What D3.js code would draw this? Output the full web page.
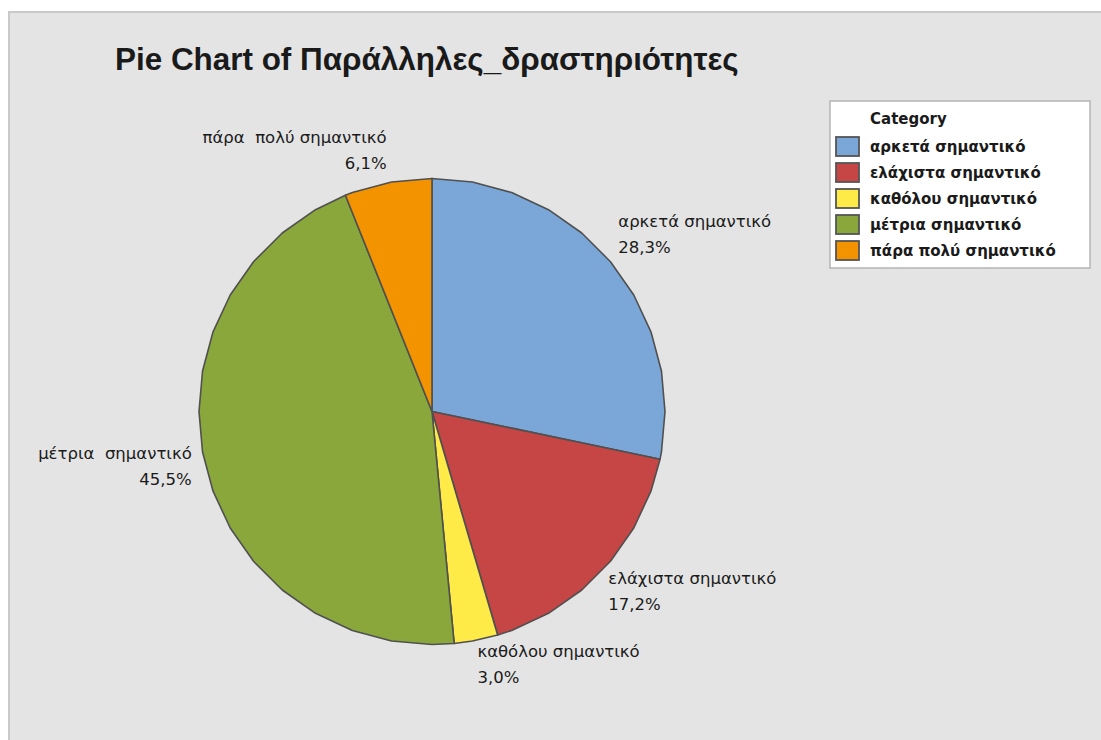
<!DOCTYPE html>
<html>
<head>
<meta charset="utf-8">
<script src="https://cdn.jsdelivr.net/npm/d3@7/dist/d3.min.js"></script>
<style>
  html, body { margin: 0; padding: 0; background: #ffffff; }
  svg { display: block; }
  text { white-space: pre; }
</style>
</head>
<body>
<svg id="chart" width="1101" height="740"></svg>
<script>
// Responses per category (counts), in drawing order clockwise from 12 o'clock
const categories = ["αρκετά σημαντικό", "ελάχιστα σημαντικό", "καθόλου σημαντικό", "μέτρια σημαντικό", "πάρα πολύ σημαντικό"];
const sliceLabels = ["αρκετά σημαντικό", "ελάχιστα σημαντικό", "καθόλου σημαντικό", "μέτρια  σημαντικό", "πάρα  πολύ σημαντικό"];
const counts = [28, 17, 3, 45, 6];
const colors = ["#7ba7d8", "#c64545", "#ffeb47", "#89a73b", "#f39300"];
const titleText = "Pie Chart of Παράλληλες_δραστηριότητες";
const legendTitle = "Category";

const W = 1101, H = 740;
const svg = d3.select("#chart");
const labelFont = "'DejaVu Sans', Verdana, sans-serif";

// background panel
svg.append("rect").attr("x", 0).attr("y", 0).attr("width", W).attr("height", H).attr("fill", "#ffffff");
svg.append("rect").attr("x", 9).attr("y", 12).attr("width", W).attr("height", H)
  .attr("fill", "#e4e4e4").attr("stroke", "#c9c9c9").attr("stroke-width", 2);

// title, sized to its measured span
const title = svg.append("text")
  .attr("x", 115).attr("y", 70)
  .attr("font-family", "'Liberation Sans', Arial, sans-serif")
  .attr("font-weight", "bold").attr("font-size", 28)
  .attr("fill", "#1a1a1a")
  .text(titleText);
{
  const len = title.node().getComputedTextLength();
  title.attr("font-size", 28 * 624 / len);
}

// pie geometry
const cx = 432, cy = 411.5, R = 233;
const total = d3.sum(counts);
const pct = d3.scaleLinear().domain([0, total]).range([0, 100]);
const pie = d3.pie().sort(null).value(d => d.count);
const arcs = pie(categories.map((c, i) => ({ cat: c, label: sliceLabels[i], count: counts[i], color: colors[i] })));

// slices are drawn as polygons with a vertex every 10 degrees
const step = Math.PI / 18;
const radial = d3.lineRadial().angle(p => p[0]).radius(p => p[1]).curve(d3.curveLinearClosed);
function polySlice(a) {
  const pts = [[a.startAngle, 0], [a.startAngle, R]];
  for (let k = Math.floor(a.startAngle / step + 1e-6) + 1; k * step < a.endAngle - 1e-6; k++) {
    pts.push([k * step, R]);
  }
  pts.push([a.endAngle, R]);
  return radial(pts);
}

const g = svg.append("g").attr("transform", `translate(${cx},${cy})`);
g.selectAll("path.slice").data(arcs).join("path")
  .attr("class", "slice")
  .attr("d", polySlice)
  .attr("fill", d => d.data.color)
  .attr("stroke", "#505050")
  .attr("stroke-width", 1.6)
  .attr("stroke-linejoin", "round");

// slice labels: name and percent outside the rim at the slice mid-angle
const fmt = v => d3.format(".1f")(v).replace(".", ",") + "%";
const labelR = 240, lineGap = 26;
arcs.forEach(a => {
  const mid = (a.startAngle + a.endAngle) / 2;
  const s = Math.sin(mid), c = Math.cos(mid);
  let px = cx + s * labelR;
  const py = cy - c * labelR;
  let firstBase;
  if (c > 0.5) firstBase = py - lineGap - 7;       // block sits above the point
  else if (c < -0.5) firstBase = py + 10;          // block hangs below the point
  else { firstBase = py - 9; px += s > 0 ? 7 : -7; } // block beside the point
  const anchor = s >= 0 ? "start" : "end";
  const t = svg.append("text")
    .attr("font-family", labelFont)
    .attr("font-size", 16.5).attr("fill", "#1a1a1a")
    .attr("text-anchor", anchor);
  t.append("tspan").attr("x", px).attr("y", firstBase).text(a.data.label);
  t.append("tspan").attr("x", px).attr("y", firstBase + lineGap).text(fmt(pct(a.data.count)));
});

// legend
const lg = svg.append("g");
lg.append("rect").attr("x", 830).attr("y", 101).attr("width", 260).attr("height", 167)
  .attr("fill", "#ffffff").attr("stroke", "#b4b4b4").attr("stroke-width", 1.5);
lg.append("text").attr("x", 870).attr("y", 124)
  .attr("font-family", labelFont)
  .attr("font-weight", "bold").attr("font-size", 15).attr("fill", "#1a1a1a")
  .text(legendTitle);
const rowY = d3.scaleBand().domain(categories).range([137, 137 + 26 * categories.length]);
const items = lg.selectAll("g.item").data(arcs).join("g").attr("class", "item");
items.append("rect")
  .attr("x", 836).attr("y", d => rowY(d.data.cat))
  .attr("width", 23).attr("height", 19)
  .attr("fill", d => d.data.color).attr("stroke", "#555555").attr("stroke-width", 1.8);
items.append("text")
  .attr("x", 870).attr("y", d => rowY(d.data.cat) + 15)
  .attr("font-family", labelFont)
  .attr("font-weight", "bold").attr("font-size", 15).attr("fill", "#1a1a1a")
  .text(d => d.data.cat);
</script>
</body>
</html>
